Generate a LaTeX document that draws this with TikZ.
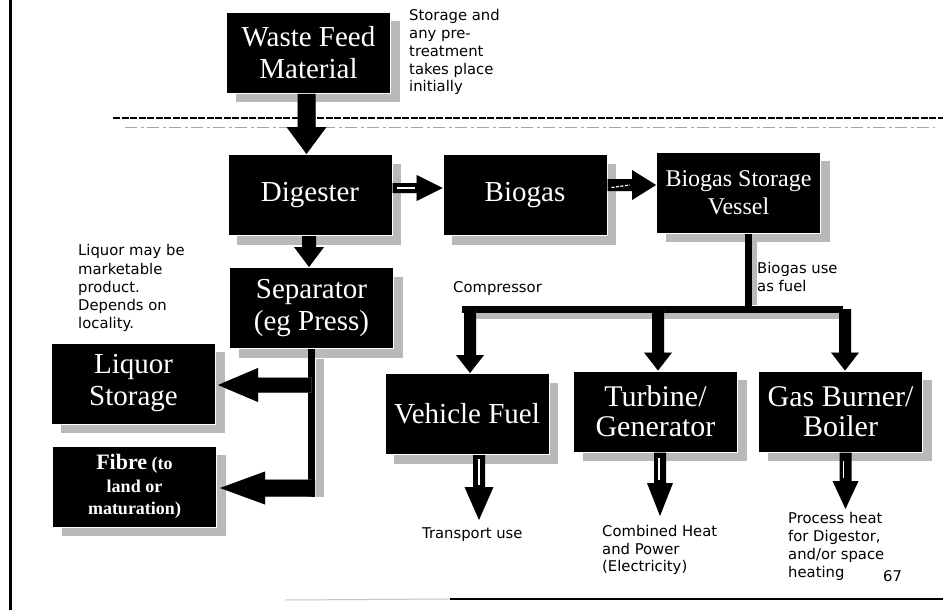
\documentclass[tikz,border=0pt]{standalone}
\usepackage{fontspec}
\setmainfont{Liberation Serif}
\newfontfamily\notefont{DejaVu Sans}
\usetikzlibrary{calc,shadows}

% Block arrows built from node anchors.
% #1 style, #2 start, #3 tip, #4 half shaft width, #5 half head width, #6 head length
\newcommand\blkdown[6]{\fill[#1] let \p1=#2, \p2=#3 in
  (\x2-#4,\y1) -- (\x2+#4,\y1) -- (\x2+#4,\y2+#6) -- (\x2+#5,\y2+#6) -- (\x2,\y2)
  -- (\x2-#5,\y2+#6) -- (\x2-#4,\y2+#6) -- cycle;}
\newcommand\blkleft[6]{\fill[#1] let \p1=#2, \p2=#3 in
  (\x1,\y2+#4) -- (\x2+#6,\y2+#4) -- (\x2+#6,\y2+#5) -- (\x2,\y2)
  -- (\x2+#6,\y2-#5) -- (\x2+#6,\y2-#4) -- (\x1,\y2-#4) -- cycle;}
\newcommand\blkright[6]{\fill[#1] let \p1=#2, \p2=#3 in
  (\x1,\y2+#4) -- (\x2-#6,\y2+#4) -- (\x2-#6,\y2+#5) -- (\x2,\y2)
  -- (\x2-#6,\y2-#5) -- (\x2-#6,\y2-#4) -- (\x1,\y2-#4) -- cycle;}

\tikzset{
  stage/.style={rectangle, fill=black, draw=white, line width=1pt, text=white,
    inner sep=0pt, align=center, minimum width=164pt, minimum height=81pt,
    font=\fontsize{29}{32}\selectfont,
    drop shadow={shadow xshift=9pt, shadow yshift=-9pt, fill=gray!55, opacity=1}},
  note/.style={anchor=north west, inner sep=0pt, align=left,
    font=\notefont\fontsize{14.8}{17.7}\selectfont},
  arrowshade/.style={fill=gray!55},
  pipe/.style={draw=black, line width=7pt},
  pipeshade/.style={draw=gray!55, line width=7pt},
}

\begin{document}
\begin{tikzpicture}[x=1pt,y=-1pt]
\useasboundingbox (0,0) rectangle (943,610);
\fill[white] (0,0) rectangle (943,610);

% page frame
\draw[line width=3pt] (10,0) -- (10,610);
\draw[gray!45, line width=1pt] (285,600) -- (450,599);
\draw[line width=2pt] (450,599) -- (943,599);

% boundary between feed handling and the plant
\draw[line width=1.1pt, dash pattern=on 7pt off 1.5pt] (113,118) -- (943,118);
\draw[gray!70, line width=0.8pt, dash pattern=on 12pt off 4pt on 3pt off 3pt] (125,127) -- (935,127);

% process stages
\node[stage] (waste) at (308.5,53) {Waste Feed\\Material};
\node[stage] (digester) at (310,195) {Digester};
\node[stage] (biogas) at (525,195) {Biogas};
\node[stage, font=\fontsize{24}{28}\selectfont] (storage) at (738.5,192.5) {Biogas Storage\\Vessel};
\node[stage] (sep) at (311.5,308) {Separator\\(eg Press)};
\node[stage] (liquor) at (133.5,383.5) {Liquor\\Storage};
\node[stage, font=\bfseries\fontsize{18}{22.5}\selectfont] (fibre) at (134.5,486.5)
  {{\fontsize{22}{22.5}\selectfont Fibre} (to\\land or\\maturation)};
\node[stage] (vehicle) at (467,414) {Vehicle Fuel};
\node[stage, font=\fontsize{30}{30}\selectfont] (turbine) at (655.5,411.5) {Turbine/\\Generator};
\node[stage, font=\fontsize{30}{30}\selectfont] (boiler) at (840.5,411.5) {Gas Burner/\\Boiler};

% notes
\node[note] (pretreat) at (409,9.5) {Storage and\\any pre-\\treatment\\takes place\\initially};
\node[note, font=\notefont\fontsize{14.8}{18.2}\selectfont] (liqnote) at (78,244.5)
  {Liquor may be\\marketable\\product.\\Depends on\\locality.};
\node[note] (compressor) at (453,281.5) {Compressor};
\node[note] (fueluse) at (757,262.5) {Biogas use\\as fuel};
\node[note] (transport) at (422,527.5) {Transport use};
\node[note, font=\notefont\fontsize{14.8}{17.5}\selectfont] (chp) at (602,525.5)
  {Combined Heat\\and Power\\(Electricity)};
\node[note, font=\notefont\fontsize{14.8}{18}\selectfont] (heat) at (788,512.5)
  {Process heat\\for Digestor,\\and/or space\\heating};
\node[note] (page) at (883,570) {67};

% feed into the digester
\blkdown{arrowshade, xshift=6pt}{(waste.south)}{($(waste.south |- digester.north)+(-2,0)$)}{9pt}{20pt}{27pt}
\blkdown{black}{(waste.south)}{($(waste.south |- digester.north)+(-2,0)$)}{9pt}{20pt}{27pt}

% digester to separator
\blkdown{arrowshade, xshift=5pt}{(digester.south)}{($(digester.south |- sep.north)+(-1,0)$)}{7pt}{15pt}{20pt}
\blkdown{black}{(digester.south)}{($(digester.south |- sep.north)+(-1,0)$)}{7pt}{15pt}{20pt}

% gas path
\blkright{arrowshade, xshift=2pt, yshift=-8pt}{(digester.east)}{($(biogas.west)+(0,-7)$)}{5pt}{13pt}{26pt}
\blkright{black}{(digester.east)}{($(biogas.west)+(0,-7)$)}{5pt}{13pt}{26pt}
\draw[white, line width=1.2pt] ($(digester.east)+(4,-7)$) -- ($(biogas.west)+(-28,-7)$);
\blkright{arrowshade, xshift=2pt, yshift=-8pt}{(biogas.east)}{($(storage.west)+(0,-7.5)$)}{6pt}{15pt}{24pt}
\blkright{black}{(biogas.east)}{($(storage.west)+(0,-7.5)$)}{6pt}{15pt}{24pt}
\draw[white, line width=1.2pt, dash pattern=on 3pt off 1.5pt] ($(biogas.east)+(4,-7.5)$) -- ($(storage.west)+(-26,-7.5)$);

% separator outputs
\draw[pipeshade, line width=8pt] ($(sep.south)+(8.5,10)$) -- ($(sep.south |- fibre.east)+(8.5,10.5)$);
\draw[pipe] (sep.south) -- ($(sep.south |- fibre.east)+(0,10.5)$);
\blkleft{arrowshade, yshift=-5pt, xshift=2pt}{(sep.south |- liquor.east)}{($(liquor.east)+(2,1.5)$)}{7.5pt}{17pt}{40pt}
\blkleft{black}{(sep.south |- liquor.east)}{($(liquor.east)+(2,1.5)$)}{7.5pt}{17pt}{40pt}
\blkleft{arrowshade, yshift=-5pt, xshift=2pt}{(sep.south |- fibre.east)}{($(fibre.east)+(3,1.5)$)}{8.5pt}{16.5pt}{45pt}
\blkleft{black}{($(sep.south |- fibre.east)+(3.5,0)$)}{($(fibre.east)+(3,1.5)$)}{8.5pt}{16.5pt}{45pt}

% biogas distribution
\coordinate (bus) at ($(storage.south)+(10,75.5)$);
\draw[pipeshade, line width=5pt] ($(storage.south)+(16,7)$) -- ($(bus)+(6,-4)$);
\draw[pipe] (storage.south -| bus) -- (bus);
\draw[pipeshade, line width=6pt] ($(bus -| vehicle.north)+(3,6.5)$) -- ($(bus -| boiler.north)+(2.5,6.5)$);
\draw[pipe] ($(bus -| vehicle.north)+(-5,0)$) -- ($(bus -| boiler.north)+(2.5,0)$);
\foreach \dest/\dx in {vehicle/3, turbine/2.5, boiler/4.5}{
  \blkdown{arrowshade, xshift=6pt}{(bus)}{($(\dest.north)+(\dx,0)$)}{6pt}{14pt}{18pt}
  \blkdown{black}{(bus)}{($(\dest.north)+(\dx,0)$)}{6pt}{14pt}{18pt}
}

% end uses
\coordinate (vtip) at ($(vehicle.south)+(12,65)$);
\coordinate (ttip) at ($(turbine.south)+(4.5,63.5)$);
\coordinate (btip) at ($(boiler.south)+(5,56.5)$);
\blkdown{black}{(vehicle.south)}{(vtip)}{6pt}{14.5pt}{33pt}
\draw[white, line width=1.2pt] ($(vtip)+(0,-61)$) -- ($(vtip)+(0,-35)$);
\blkdown{black}{(turbine.south)}{(ttip)}{6pt}{13pt}{33pt}
\draw[white, line width=1.2pt] ($(ttip)+(-1,-58)$) -- ($(ttip)+(-1,-36)$);
\blkdown{black}{(boiler.south)}{(btip)}{6pt}{13pt}{28pt}
\draw[white, line width=1.2pt] ($(btip)+(-2,-48)$) -- ($(btip)+(-2,-31)$);
\end{tikzpicture}
\end{document}
